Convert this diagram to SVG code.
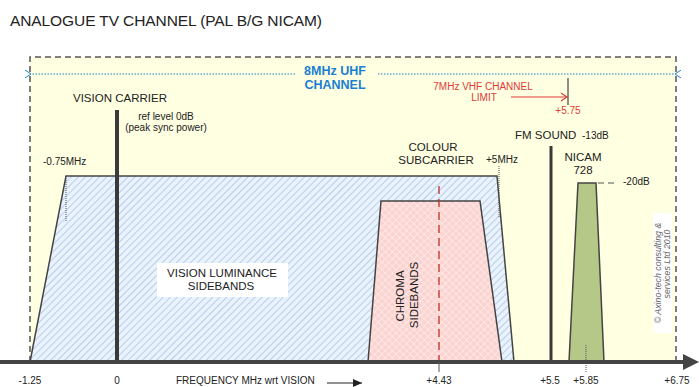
<svg xmlns="http://www.w3.org/2000/svg" width="699" height="387" viewBox="0 0 699 387">
<defs>
<style>
text{font-family:"Liberation Sans",Arial,sans-serif;fill:#222}
.lbl{font-size:11.5px}
.sm{font-size:10px}
.blue{fill:#1a7fd0;font-weight:bold;font-size:12.5px}
.red{fill:#e03a3a;font-size:10px}
.mid{text-anchor:middle}
.shape{stroke:#444;stroke-width:1.5}
.dot{stroke:#555;stroke-width:1;stroke-dasharray:1 1;fill:none}
.copy{font-size:8.8px;font-style:italic;fill:#666}
</style>
<pattern id="hatch" width="5" height="5" patternUnits="userSpaceOnUse" patternTransform="rotate(45)">
<rect width="5" height="5" fill="#eaf2fc"/>
<line x1="0" y1="0" x2="0" y2="5" stroke="#a9c5ea" stroke-width="1.6"/>
</pattern>
<pattern id="cross" width="5" height="5" patternUnits="userSpaceOnUse" patternTransform="rotate(45)">
<rect width="5" height="5" fill="#fbd3d0"/>
<line x1="0" y1="0" x2="0" y2="5" stroke="#fff" stroke-width="0.8"/>
<line x1="0" y1="0" x2="5" y2="0" stroke="#fff" stroke-width="0.8"/>
</pattern>
<marker id="arrL" markerWidth="8" markerHeight="8" refX="1" refY="4" orient="auto-start-reverse" markerUnits="userSpaceOnUse">
<path d="M7,0 L1,4 L7,8" fill="none" stroke="#1a7fd0" stroke-width="1"/>
</marker>
<marker id="arrR" markerWidth="10" markerHeight="10" refX="9" refY="5" orient="auto" markerUnits="userSpaceOnUse">
<path d="M3,1 L9,5 L3,9" fill="none" stroke="#e03a3a" stroke-width="1.2"/>
</marker>
<marker id="arrK" markerWidth="10" markerHeight="8" refX="9" refY="4" orient="auto" markerUnits="userSpaceOnUse">
<path d="M0,0 L9,4 L0,8 Z" fill="#222"/>
</marker>
</defs>

<rect width="699" height="387" fill="#fff"/>
<text x="10" y="26" style="font-size:15.5px" fill="#222" textLength="312">ANALOGUE TV CHANNEL (PAL B/G NICAM)</text>

<g id="channel-box">
<rect x="30" y="57" width="646" height="305" fill="#ffffe1"/>
<path d="M30,362 V57 H676 V362" fill="none" stroke="#555" stroke-width="1.5" stroke-dasharray="6 4"/>
</g>

<g id="uhf-channel">
<line x1="295" y1="74" x2="31" y2="74" stroke="#1a7fd0" stroke-width="1" stroke-dasharray="1.5 1.5" marker-end="url(#arrL)"/>
<line x1="378" y1="74" x2="675" y2="74" stroke="#1a7fd0" stroke-width="1" stroke-dasharray="1.5 1.5" marker-end="url(#arrL)"/>
<text class="blue mid" x="335" y="75">8MHz UHF</text>
<text class="blue mid" x="335" y="89">CHANNEL</text>
</g>

<g id="vhf-limit">
<text class="red mid" x="483" y="90">7MHz VHF CHANNEL</text>
<text class="red mid" x="484" y="101">LIMIT</text>
<line x1="511" y1="97" x2="567" y2="97" stroke="#e03a3a" stroke-width="1.2" marker-end="url(#arrR)"/>
<line x1="568" y1="78" x2="568" y2="105" stroke="#222" stroke-width="1"/>
<text class="red mid" x="568" y="114">+5.75</text>
</g>

<g id="luminance">
<polygon class="shape" points="30,362 66,176 497,176 514,362" fill="url(#hatch)"/>
<line class="dot" x1="66" y1="176" x2="66" y2="222"/>
<line class="dot" x1="499" y1="166" x2="499" y2="218"/>
<text class="sm" x="43" y="165">-0.75MHz</text>
<text class="sm" x="486" y="163">+5MHz</text>
<rect x="157" y="263" width="131" height="34" fill="#fff"/>
<text class="lbl mid" x="222" y="277">VISION LUMINANCE</text>
<text class="lbl mid" x="221" y="290">SIDEBANDS</text>
</g>

<g id="chroma">
<polygon class="shape" points="368,362 381,201 480,201 502,362" fill="url(#cross)"/>
<line x1="439" y1="186" x2="439" y2="361" stroke="#c0392b" stroke-width="1.6" stroke-dasharray="8 5" opacity="0.85"/>
<text class="lbl mid" transform="translate(404,296) rotate(-90)">CHROMA</text>
<text class="lbl mid" transform="translate(418,295) rotate(-90)">SIDEBANDS</text>
</g>

<g id="colour-subcarrier">
<text class="lbl mid" x="433" y="151">COLOUR</text>
<text class="lbl mid" x="436" y="164">SUBCARRIER</text>
</g>

<g id="vision-carrier">
<line x1="117" y1="110" x2="117" y2="362" stroke="#3a3a3a" stroke-width="4"/>
<text class="lbl" x="73" y="102">VISION CARRIER</text>
<text class="sm mid" x="166" y="120">ref level 0dB</text>
<text class="sm mid" x="166" y="131">(peak sync power)</text>
</g>

<g id="fm-sound">
<line x1="551" y1="146" x2="551" y2="362" stroke="#3a3a3a" stroke-width="3"/>
<text class="lbl" x="515" y="139">FM SOUND</text>
<text class="sm" x="582" y="139">-13dB</text>
</g>

<g id="nicam">
<polygon class="shape" points="569,362 578,183 596,183 604,362" fill="#b5c888"/>
<line x1="598" y1="183" x2="618" y2="183" stroke="#555" stroke-width="1.2" stroke-dasharray="6 4"/>
<text class="sm" x="623" y="185">-20dB</text>
<text class="lbl mid" x="583" y="161">NICAM</text>
<text class="lbl mid" x="583" y="174">728</text>
<line class="dot" x1="586" y1="345" x2="586" y2="372"/>
</g>

<g id="copyright">
<rect x="653" y="213" width="19" height="120" fill="#fff"/>
<text class="mid copy" transform="translate(661,273) rotate(-90)">© Axino-tech consulting &amp;</text>
<text class="mid copy" transform="translate(670,264) rotate(-90)">services Ltd 2010</text>
</g>

<g id="axis">
<line x1="0" y1="362" x2="684" y2="362" stroke="#444" stroke-width="4"/>
<polygon points="683,354 699,362 683,370" fill="#444"/>
<line x1="439" y1="362" x2="439" y2="372" stroke="#555" stroke-width="1"/>
<text class="sm mid" x="30" y="384">-1.25</text>
<text class="sm mid" x="117" y="384">0</text>
<text class="sm" x="176" y="384">FREQUENCY MHz wrt VISION</text>
<line x1="327" y1="383" x2="362" y2="383" stroke="#222" stroke-width="1" marker-end="url(#arrK)"/>
<text class="sm mid" x="439" y="384">+4.43</text>
<text class="sm mid" x="550" y="384">+5.5</text>
<text class="sm mid" x="586" y="384">+5.85</text>
<text class="sm mid" x="677" y="384">+6.75</text>
</g>
</svg>
